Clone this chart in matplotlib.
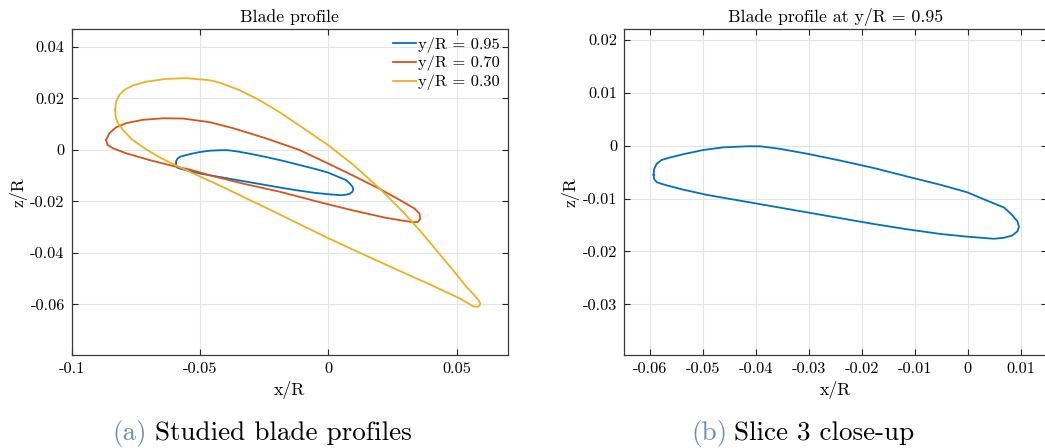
import numpy as np
import matplotlib
matplotlib.use("Agg")
import matplotlib.pyplot as plt
from matplotlib.ticker import FuncFormatter

plt.rcParams['font.family'] = 'serif'
plt.rcParams['font.serif'] = ['cmr10']
plt.rcParams['mathtext.fontset'] = 'cm'
plt.rcParams['axes.formatter.use_mathtext'] = True

# blade sections (x/R, z/R), leading edge -> upper -> TE -> lower
x_095 = [-0.0594, -0.0593, -0.0588, -0.0579, -0.0566, -0.0538, -0.0500, -0.0462, -0.0418, -0.0392,
         -0.0354, -0.0304, -0.0241, -0.0178, -0.0115, -0.0051, -0.0001, 0.0037, 0.0069, 0.0084,
         0.0094, 0.0097, 0.0094, 0.0084, 0.0069, 0.0050, 0.0037, -0.0001, -0.0051, -0.0115,
         -0.0178, -0.0241, -0.0304, -0.0367, -0.0430, -0.0493, -0.0538, -0.0569, -0.0579, -0.0588,
         -0.0593]
z_095 = [-0.0055, -0.0044, -0.0034, -0.0027, -0.0023, -0.0016, -0.0008, -0.0003, -0.0001, -0.0001,
         -0.0006, -0.0015, -0.0028, -0.0042, -0.0058, -0.0074, -0.0088, -0.0104, -0.0117, -0.0131,
         -0.0143, -0.0153, -0.0162, -0.0170, -0.0174, -0.0176, -0.0175, -0.0172, -0.0167, -0.0158,
         -0.0148, -0.0137, -0.0126, -0.0115, -0.0104, -0.0093, -0.0083, -0.0075, -0.0072, -0.0069,
         -0.0063]

x_070 = [-0.0866, -0.0853, -0.0827, -0.0788, -0.0723, -0.0645, -0.0567, -0.0463, -0.0373, -0.0243,
         -0.0113, -0.0034, 0.0095, 0.0199, 0.0290, 0.0336, 0.0355, 0.0358, 0.0349, 0.0329,
         0.0225, 0.0095, -0.0034, -0.0191, -0.0327, -0.0457, -0.0541, -0.0607, -0.0698, -0.0788,
         -0.0840, -0.0860]
z_070 = [0.0039, 0.0065, 0.0088, 0.0104, 0.0117, 0.0123, 0.0122, 0.0108, 0.0085, 0.0045,
         0.0000, -0.0037, -0.0099, -0.0151, -0.0201, -0.0228, -0.0248, -0.0269, -0.0280, -0.0281,
         -0.0264, -0.0235, -0.0203, -0.0162, -0.0132, -0.0100, -0.0076, -0.0062, -0.0039, -0.0013,
         0.0007, 0.0019]

x_030 = [-0.0831, -0.0827, -0.0814, -0.0795, -0.0763, -0.0711, -0.0633, -0.0555, -0.0463, -0.0425,
         -0.0347, -0.0269, -0.0191, -0.0113, 0.0000, 0.0095, 0.0199, 0.0290, 0.0355, 0.0420,
         0.0485, 0.0537, 0.0566, 0.0583, 0.0592, 0.0589, 0.0578, 0.0565, 0.0512, 0.0394,
         0.0264, 0.0134, 0.0004, -0.0126, -0.0191, -0.0405, -0.0496, -0.0555, -0.0594, -0.0659,
         -0.0711, -0.0763, -0.0801, -0.0820, -0.0829]
z_030 = [0.0155, 0.0188, 0.0214, 0.0233, 0.0250, 0.0265, 0.0276, 0.0279, 0.0271, 0.0262,
         0.0233, 0.0194, 0.0147, 0.0095, 0.0018, -0.0056, -0.0149, -0.0240, -0.0311, -0.0389,
         -0.0466, -0.0531, -0.0562, -0.0581, -0.0596, -0.0606, -0.0610, -0.0608, -0.0577, -0.0522,
         -0.0464, -0.0405, -0.0345, -0.0282, -0.0250, -0.0147, -0.0105, -0.0078, -0.0060, -0.0028,
         0.0003, 0.0039, 0.0078, 0.0104, 0.0129]

labels = ['y/R = 0.95', 'y/R = 0.70', 'y/R = 0.30']
colors = ['#0072BD', '#D95319', '#EDB120']

left_xticks = [-0.1, -0.05, 0, 0.05]
left_yticks = [-0.06, -0.04, -0.02, 0, 0.02, 0.04]
right_xticks = [-0.06, -0.05, -0.04, -0.03, -0.02, -0.01, 0, 0.01]
right_yticks = [-0.03, -0.02, -0.01, 0, 0.01, 0.02]


def closed(x, z):
    return np.append(x, x[0]), np.append(z, z[0])


def fmt(v, pos):
    v = round(v, 6)
    if abs(v) < 1e-9:
        return '0'
    return f'{v:g}'


def style(ax, xt, yt):
    ax.set_xticks(xt)
    ax.set_yticks(yt)
    ax.xaxis.set_major_formatter(FuncFormatter(fmt))
    ax.yaxis.set_major_formatter(FuncFormatter(fmt))
    ax.tick_params(direction='in', top=True, right=True, length=4, width=0.8,
                   color='#262626', labelsize=11.8, pad=5)
    for s in ax.spines.values():
        s.set_color('#3a3a3a')
        s.set_linewidth(0.9)
    ax.grid(True, color='#e4e4e4', lw=0.8)
    ax.set_axisbelow(True)
    ax.set_xlabel('x/R', fontsize=12.8, labelpad=4)
    ax.set_ylabel('z/R', fontsize=12.8, labelpad=2)


W, H = 1045, 448
fig = plt.figure(figsize=(W / 100, H / 100), dpi=100)

ax1 = fig.add_axes([71.7 / W, 93 / H, 436.3 / W, 326 / H])
for (x, z), c, lab in zip([(x_095, z_095), (x_070, z_070), (x_030, z_030)], colors, labels):
    xc, zc = closed(x, z)
    ax1.plot(xc, zc, color=c, lw=1.3, label=lab, solid_joinstyle='round')
ax1.set_xlim(-0.1, 0.07)
ax1.set_ylim(-0.0797, 0.047)
style(ax1, left_xticks, left_yticks)
ax1.set_title('Blade profile', fontsize=12.8, pad=5)
ax1.legend(loc='upper right', frameon=False, fontsize=11.8, handlelength=1.4,
           handletextpad=0.1, labelspacing=0.2, borderaxespad=0.3, borderpad=0.2)

ax2 = fig.add_axes([624 / W, 93 / H, 423 / W, 326 / H])
xc, zc = closed(x_095, z_095)
ax2.plot(xc, zc, color=colors[0], lw=1.3, solid_joinstyle='round')
ax2.set_xlim(-0.065, 0.015)
ax2.set_ylim(-0.0396, 0.0221)
style(ax2, right_xticks, right_yticks)
ax2.set_title('Blade profile at y/R = 0.95', fontsize=12.8, pad=5)

cap_y = (H - 440) / H
fig.text(112 / W, cap_y, '(a)', color='#6f8db0', fontsize=19.5, va='baseline')
fig.text(155 / W, cap_y, 'Studied blade profiles', fontsize=19.5, va='baseline')
fig.text(691 / W, cap_y, '(b)', color='#6f8db0', fontsize=19.5, va='baseline')
fig.text(734 / W, cap_y, 'Slice 3 close-up', fontsize=19.5, va='baseline')

fig.savefig('out.png', dpi=100)
